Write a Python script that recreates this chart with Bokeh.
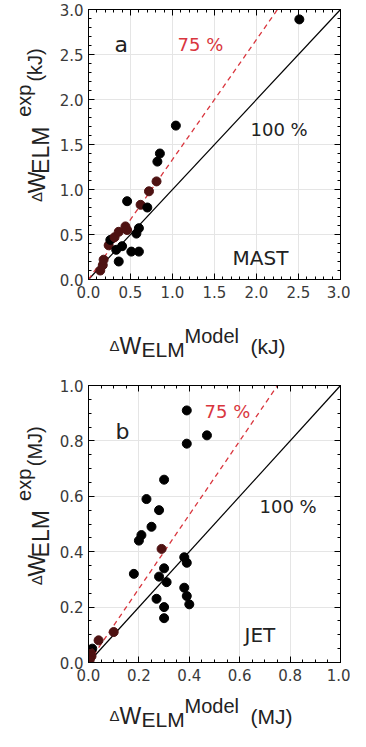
import numpy as np
from bokeh.plotting import figure
from bokeh.models import LinearAxis, SingleIntervalTicker, Label, Range1d, PrintfTickFormatter
from bokeh.layouts import column, row
from bokeh.embed import file_html
from bokeh.resources import INLINE

# ---- data: panel a (MAST, kJ) ----
mast_model = [0.14, 0.17, 0.18, 0.24, 0.26, 0.31, 0.33, 0.36, 0.36, 0.40, 0.44, 0.46, 0.46,
              0.51, 0.57, 0.60, 0.60, 0.62, 0.70, 0.72, 0.81, 0.82, 0.85, 1.04, 2.51]
mast_exp = [0.10, 0.16, 0.22, 0.38, 0.44, 0.47, 0.33, 0.53, 0.20, 0.37, 0.59, 0.87, 0.55,
            0.31, 0.51, 0.57, 0.31, 0.83, 0.80, 0.98, 1.09, 1.31, 1.40, 1.71, 2.89]

# ---- data: panel b (JET, MJ) ----
jet_model = [0.39, 0.47, 0.39, 0.30, 0.23, 0.28, 0.25, 0.21, 0.20, 0.29, 0.38, 0.39, 0.18, 0.30,
             0.28, 0.31, 0.38, 0.39, 0.40, 0.27, 0.30, 0.30, 0.10, 0.04, 0.015, 0.008, 0.012, 0.005]
jet_exp = [0.91, 0.82, 0.79, 0.66, 0.59, 0.55, 0.49, 0.46, 0.44, 0.41, 0.38, 0.36, 0.32, 0.34,
           0.31, 0.29, 0.27, 0.24, 0.21, 0.23, 0.20, 0.16, 0.11, 0.08, 0.05, 0.035, 0.023, 0.01]

fraction_line = 0.75  # "75 %" reference line: exp = model / 0.75

FONT = "DejaVu Sans"
TFONT = "Liberation Sans"
RED = "#d9363e"
TXT = "#222222"
PAGE = 8  # body margin


def text_fig(w, h, left_page, top_page, items):
    """A bare figure whose frame is its whole area; items placed in page pixels."""
    f = figure(width=w, height=h, x_range=Range1d(0, w), y_range=Range1d(0, h),
               output_backend="svg", toolbar_location=None,
               x_axis_location=None, y_axis_location=None,
               min_border=0, min_border_left=0, min_border_right=0,
               min_border_top=0, min_border_bottom=0)
    f.outline_line_color = None
    f.background_fill_color = "white"
    f.border_fill_color = "white"
    f.grid.visible = False
    for text, xp, yp, size, angle in items:
        f.add_layout(Label(x=xp - left_page, y=h - (yp - top_page), text=text,
                           text_font=TFONT, text_font_size=size, text_color=TXT,
                           angle=angle, text_align="left", text_baseline="alphabetic"))
    return f


def core_panel(xs, ys, vmax, interval, nminor, h, border_top, frame_h, page_top,
               tag, machine, pos):
    frame_left_page = 96.0
    frame_w = 252.0
    frame_top_page = page_top + border_top
    left_page = 64

    def P(xp, yp):
        return ((xp - frame_left_page) / frame_w * vmax,
                (frame_top_page + frame_h - yp) / frame_h * vmax)

    p = figure(width=358 - left_page, height=h, x_range=Range1d(0, vmax),
               y_range=Range1d(0, vmax),
               output_backend="svg", toolbar_location=None,
               x_axis_location=None, y_axis_location=None,
               min_border_left=int(frame_left_page - left_page), min_border_right=10,
               min_border_top=border_top, min_border_bottom=h - border_top - frame_h)
    p.outline_line_color = "black"
    p.outline_line_width = 1
    p.background_fill_color = "white"
    p.border_fill_color = "white"

    for loc in ["below", "left", "above", "right"]:
        show = loc in ("below", "left")
        a = LinearAxis(ticker=SingleIntervalTicker(interval=interval, num_minor_ticks=nminor),
                       formatter=PrintfTickFormatter(format="%.1f"),
                       major_tick_in=6, major_tick_out=0, minor_tick_in=3, minor_tick_out=0,
                       axis_line_color="black", major_tick_line_color="black",
                       minor_tick_line_color="black",
                       major_label_standoff=(6 if loc == "below" else 5) if show else 0,
                       major_label_text_font=FONT,
                       major_label_text_font_size="15px" if show else "1px",
                       major_label_text_color="#3a3a3a" if show else None)
        p.add_layout(a, loc)

    # reference lines
    p.line([0, vmax], [0, vmax], line_color="black", line_width=1.2)
    p.line([0, vmax * fraction_line], [0, vmax], line_color=RED, line_width=1.3,
           line_dash="5 4")

    xs_a = np.array(xs)
    ys_a = np.array(ys)
    near = np.abs(ys_a - xs_a / fraction_line) < 0.03 * vmax
    colors = np.where(near, "#4e1212", "black").tolist()
    p.scatter(xs, ys, size=9, fill_color=colors, line_color=colors)

    def lab(text, xp, yp, size, color=TXT):
        x, y = P(xp, yp)
        p.add_layout(Label(x=x, y=y, text=text, text_font=FONT, text_font_size=size,
                           text_color=color, text_align="left", text_baseline="alphabetic"))

    lab(tag, *pos["tag"], "22px")
    lab("75 %", *pos["p75"], "18px", RED)
    lab("100 %", *pos["p100"], "18px")
    lab(machine, *pos["mach"], "20px")
    return p


def y_title(unit, top_page, h, yb):
    r = np.pi / 2
    return text_fig(64 - PAGE, h, PAGE, top_page, [
        ("Δ", 44, yb, "15px", r),
        ("W", 44, yb - 10, "23px", r),
        ("ELM", 48, yb - 32, "23px", r),
        ("exp", 31, yb - 97, "20px", r),
        ("(%s)" % unit, 42, yb - 137, "20px", r),
    ])


def x_title(unit, top_page, h, bx):
    return text_fig(350, h, PAGE, top_page, [
        ("Δ", 117, bx, "15px", 0.0),
        ("W", 127, bx, "23px", 0.0),
        ("ELM", 149, bx + 4, "21px", 0.0),
        ("Model", 192, bx - 10, "20px", 0.0),
        ("(%s)" % unit, 258, bx + 1, "21px", 0.0),
    ])


# panel a: page rows 8..315 (core), 315..375 (x title)
pa = core_panel(mast_model, mast_exp, 3.0, 0.5, 5, 307, 9, 270, 8, "a", "MAST",
                {"tag": (122, 52), "p75": (185, 52), "p100": (258, 137), "mach": (240, 265)})
ya = y_title("kJ", 8, 307, 227)
xa = x_title("kJ", 315, 60, 353)

# panel b: page rows 375..694 (core), 694..739 (x title)
pb = core_panel(jet_model, jet_exp, 1.0, 0.2, 4, 319, 18, 277, 375, "b", "JET",
                {"tag": (123, 439), "p75": (212, 419), "p100": (267, 514), "mach": (252, 642)})
yb = y_title("MJ", 375, 319, 605)
xb = x_title("MJ", 694, 45, 723)

layout = column(row(ya, pa), xa, row(yb, pb), xb)
open("out.html", "w").write(file_html(layout, INLINE))
